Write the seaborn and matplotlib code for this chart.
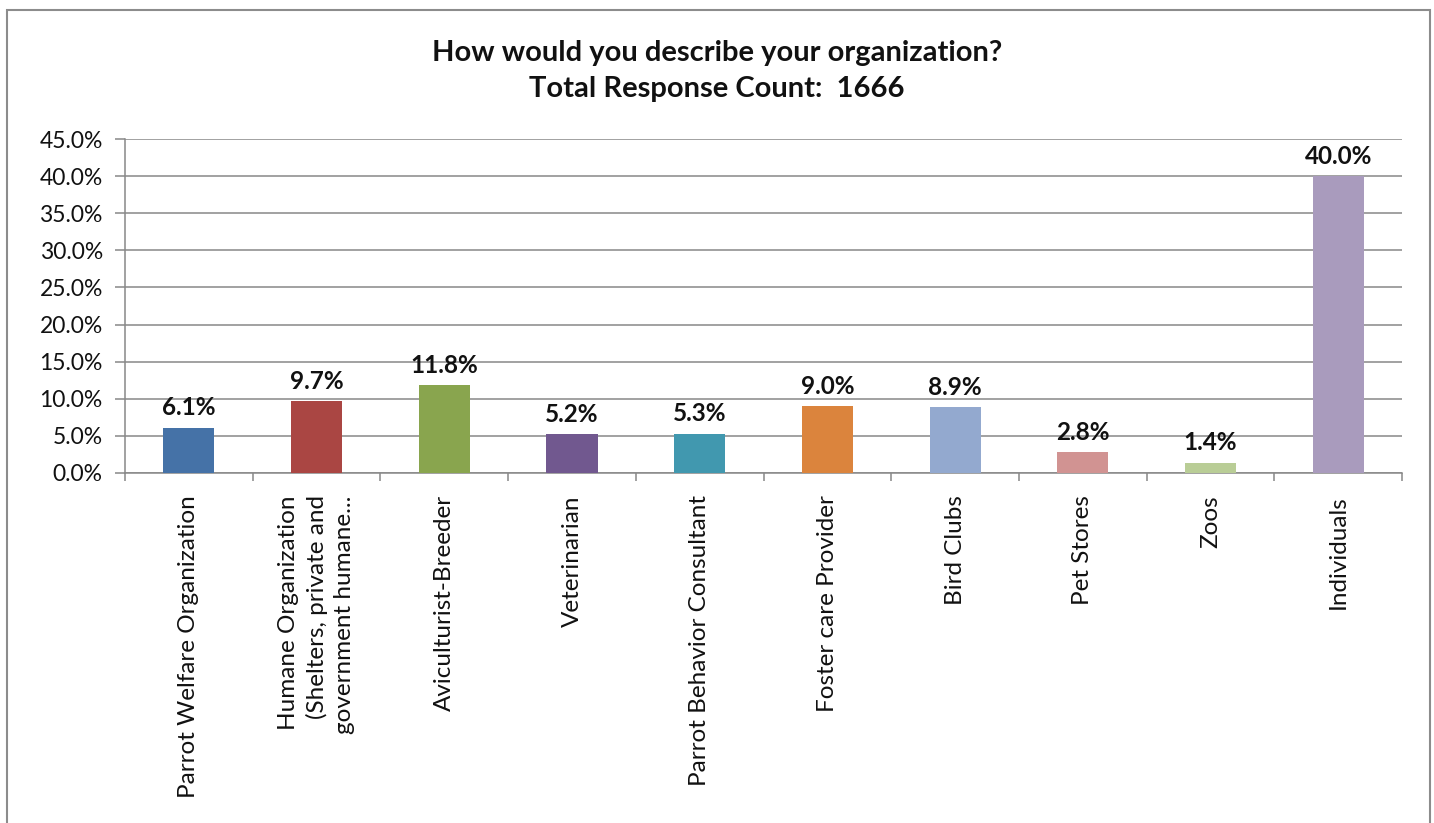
import matplotlib
matplotlib.use("Agg")
import matplotlib.pyplot as plt
from matplotlib.patches import Rectangle
from matplotlib.ticker import FuncFormatter, MultipleLocator, FixedLocator
import numpy as np
import pandas as pd
import seaborn as sns

# Survey answers and their shares of all responses (percent)
categories = [
    "Parrot Welfare Organization",
    "Humane Organization\n(Shelters, private and\ngovernment humane...",
    "Aviculturist-Breeder",
    "Veterinarian",
    "Parrot Behavior Consultant",
    "Foster care Provider",
    "Bird Clubs",
    "Pet Stores",
    "Zoos",
    "Individuals",
]
shares = [6.1, 9.7, 11.8, 5.2, 5.3, 9.0, 8.9, 2.8, 1.4, 40.0]
bar_colors = [
    "#4572A7", "#AA4643", "#89A54E", "#71588F", "#4198AF",
    "#DB843D", "#93A9CF", "#D19392", "#B9CD96", "#A99BBD",
]
title_lines = ["How would you describe your organization?",
               "Total Response Count:  1666"]

sns.set_theme(style="white")
plt.rcParams["font.family"] = ["Lato", "DejaVu Sans"]
plt.rcParams["text.color"] = "#111111"

df = pd.DataFrame({"category": categories, "share": shares})

fig = plt.figure(figsize=(14.34, 8.23), dpi=100)
ax = fig.add_axes([0.0872, 0.4253, 0.9777 - 0.0872, 0.8311 - 0.4253])

sns.barplot(data=df, x="category", y="share", hue="category",
            palette=bar_colors, legend=False, width=0.4, saturation=1,
            linewidth=0, edgecolor="none", ax=ax, zorder=3)

grid_color = "#888888"
ax.set_ylim(0, 45)
ax.set_xlim(-0.5, len(categories) - 0.5)
ax.yaxis.set_major_locator(MultipleLocator(5))
ax.yaxis.set_major_formatter(FuncFormatter(lambda v, _: f"{v:.1f}%"))
ax.grid(axis="y", color=grid_color, linewidth=1.1, zorder=0)
ax.grid(axis="x", visible=False)
ax.set_axisbelow(True)

for side in ("top", "right"):
    ax.spines[side].set_visible(False)
for side in ("left", "bottom"):
    ax.spines[side].set_color(grid_color)
    ax.spines[side].set_linewidth(1.1)

ax.set_xlabel("")
ax.set_ylabel("")

# Rotated category names, multi-line names aligned at the axis end
ax.set_xticks(range(len(categories)))
ax.set_xticklabels(categories, rotation=90, ha="center", va="top",
                   multialignment="right", linespacing=1.35,
                   fontsize=17.5, color="#111111")

# Category separators as minor ticks on the x axis
ax.xaxis.set_minor_locator(FixedLocator(np.arange(-0.5, len(categories), 1.0)))
ax.tick_params(axis="x", which="minor", bottom=True, length=6, width=1.1,
               color=grid_color, direction="out")
ax.tick_params(axis="x", which="major", length=0, pad=16)
ax.tick_params(axis="y", which="major", left=True, length=7, width=1.1,
               color=grid_color, direction="out", pad=9, labelsize=16.5,
               labelcolor="#111111")

for cont in ax.containers:
    ax.bar_label(cont, fmt="%.1f%%", padding=6, fontsize=17.5,
                 fontweight="bold", color="#111111")

fig.text(0.5, 1 - 53 / 823, title_lines[0], ha="center", va="center",
         fontsize=21, fontweight="bold")
fig.text(0.5, 1 - 89 / 823, title_lines[1], ha="center", va="center",
         fontsize=21, fontweight="bold")

# Chart frame
fig.patches.append(Rectangle((7 / 1434, -0.02), (1430 - 7) / 1434,
                             1 - 10 / 823 + 0.02, transform=fig.transFigure,
                             fill=False, edgecolor="#8c8c8c", linewidth=1.5))

fig.savefig("out.png", dpi=100, facecolor="white")
